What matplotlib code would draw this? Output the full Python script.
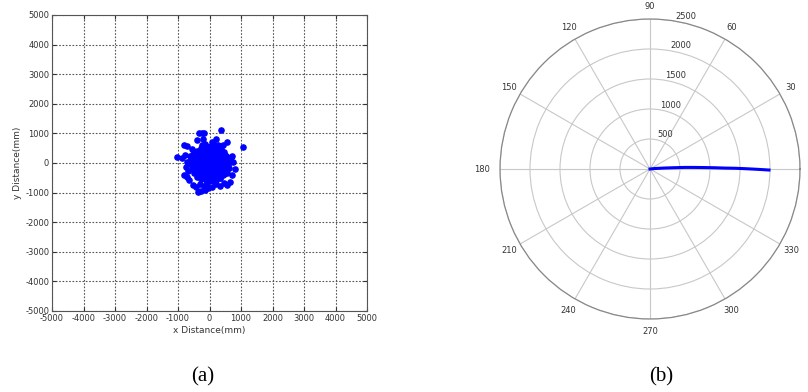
import numpy as np
import matplotlib
matplotlib.use("Agg")
import matplotlib.pyplot as plt

plt.rcParams['axes.unicode_minus'] = False
plt.rcParams['font.family'] = ['DejaVu Sans']

# (a) scatter of position error, mm
x_mm = [0, -60, 40, 80, -90, 120, -130, 10, -20,
        150, -140, 130, -150,
        280, 240, 160, 20, -130, -250, -300, -260, -160, 10, 140, 250,
        210, -200, 70, -60, 200, -210, 90, -80,
        440, 410, 350, 230, 90, -70, -220, -340, -420, -460, -430, -340, -220, -80, 70, 220, 340, 420,
        370, -380, 300, -300, 310, -320, 100, -120, 360, -50, 40,
        560, 530, 470, 360, 210, 40, -120, -280, -410, -520, -580, -600, -570, -500, -400, -260, -110, 50, 200, 330, 450, 540, 580,
        500, -520, 480, -480, 300, -330, 150, -150, 20, -30, -460, 420,
        -40, 60, -180, 170, -100, 110, 330, -350, 260, -270, 30, -20, 400, -410, 190, -190,
        480, -500, 120, -130, 390, -400, 560, -560, 270, -250, 640, -640, 100, -90,
        -280, 290, -90, 80, 450, -450, 180, -170, -380, 370, 0, 230, -230, 520, -530,
        160, -40, -330, 330, 60, -120, 250, -610, 610,
        700, 760, 800, 720, 640, 540, 680,
        -320, -240, -170, -400, -220, 80, 200, 380, 560, 420,
        -1040, -820, -700, -780, -720, -880, -760, -800, -700, -640, -680,
        -350, -260, -140, -420, -300, -180, -50, 80, 200, 330, 450, -520,
        1050]
y_mm = [0, 40, -60, 90, -70, -10, 20, 140, -130,
        120, 130, -140, -120,
        30, 170, 250, 290, 270, 160, 10, -140, -250, -290, -270, -160,
        60, 70, 210, -210, -80, -60, -200, 220,
        20, 170, 300, 380, 430, 450, 400, 300, 160, -10, -160, -290, -380, -440, -450, -400, -300, -150,
        90, 80, -220, -230, 230, 220, 360, -360, -80, 370, -370,
        60, 220, 360, 470, 540, 580, 570, 520, 420, 300, 140, -30, -190, -340, -460, -540, -580, -590, -560, -490, -380, -230, -70,
        -120, -100, 260, 280, 430, -410, 500, -500, 520, -520, 380, -420,
        90, 110, -10, 20, -110, -100, 130, 120, -330, -330, 220, -240, 360, 350, -450, 470,
        140, 190, -620, 650, -220, -250, -350, 460, 600, 620, 80, 40, 660, -670,
        -60, -60, 300, -290, -20, 40, -180, 190, -60, 30, 440, 460, -460, 60, 180,
        -420, -250, 410, -510, -140, 540, 100, 250, -160,
        250, 20, -200, -420, -640, -760, 200,
        1000, 1000, 1010, 770, 800, 720, 800, 1110, 720, 600,
        190, 620, 560, 260, 20, 180, -120, -400, -480, -580, -260,
        -970, -950, -910, -800, -700, -770, -860, -800, -720, -780, -680, -760,
        530]

# (b) polar trace
theta_deg = [0, 5.7, 3.8, 3.0, 2.6, 2.0, 1.5, 1.1, 0.7, 0.5, 0.2, -0.1, -0.3, -0.5]
r_mm = [0, 83, 250, 417, 583, 750, 917, 1083, 1250, 1417, 1583, 1750, 1867, 1983]
r_rings = [500, 1000, 1500, 2000, 2500]
angle_ticks = [30, 60, 90, 120, 150, 180, 210, 240, 270, 300, 330]

fig = plt.figure(figsize=(8.08, 3.92), dpi=100)

# ---- (a)
ax = fig.add_axes([52/808, 81/392, 315/808, 296/392])
ax.plot(x_mm, y_mm, '.', color='#0000ff', markersize=7.5, zorder=3)
ax.set_xlim(-5000, 5000)
ax.set_ylim(-5000, 5000)
ticks = np.arange(-5000, 5001, 1000)
ax.set_xticks(ticks)
ax.set_yticks(ticks)
ax.grid(True, linestyle=(0, (1.5, 1.5)), color='#555555', linewidth=0.8)
ax.tick_params(direction='in', length=3, labelsize=6, colors='#333333',
               top=True, right=True, pad=2)
for s in ax.spines.values():
    s.set_color('#555555')
    s.set_linewidth(0.8)
ax.set_xlabel('x Distance(mm)', fontsize=6.5, color='#333333', labelpad=2)
ax.set_ylabel('y Distance(mm)', fontsize=6.5, color='#333333', labelpad=2)

# ---- (b)
pax = fig.add_axes([500/808, 73/392, 300/808, 300/392], projection='polar')
pax.plot(np.radians(theta_deg), r_mm, color='#0000ff', linewidth=2.2, zorder=3)
pax.set_ylim(0, 2500)
pax.set_yticks(r_rings)
pax.set_yticklabels([])
pax.set_thetagrids(np.arange(0, 360, 30), [''] * 12)
pax.grid(True, color='#c8c8c8', linewidth=0.8)
pax.spines['polar'].set_color('#888888')
pax.spines['polar'].set_linewidth(0.9)
for a in angle_ticks:
    rr = 2800 if a == 180 else 2715
    pax.text(np.radians(a), rr, str(a), fontsize=6, color='#333333',
             ha='center', va='center', clip_on=False)
for r in r_rings:
    pax.annotate(str(r), xy=(np.radians(80), r), xytext=(7, 3.5),
                 textcoords='offset points', fontsize=6, color='#333333',
                 ha='center', va='center')

# captions
fig.text(203/808, 1 - 377/392, '(a)', fontsize=15, ha='center', va='center',
         family=['Liberation Serif'])
fig.text(661/808, 1 - 377/392, '(b)', fontsize=15, ha='center', va='center',
         family=['Liberation Serif'])

fig.savefig('out.png', dpi=100)
